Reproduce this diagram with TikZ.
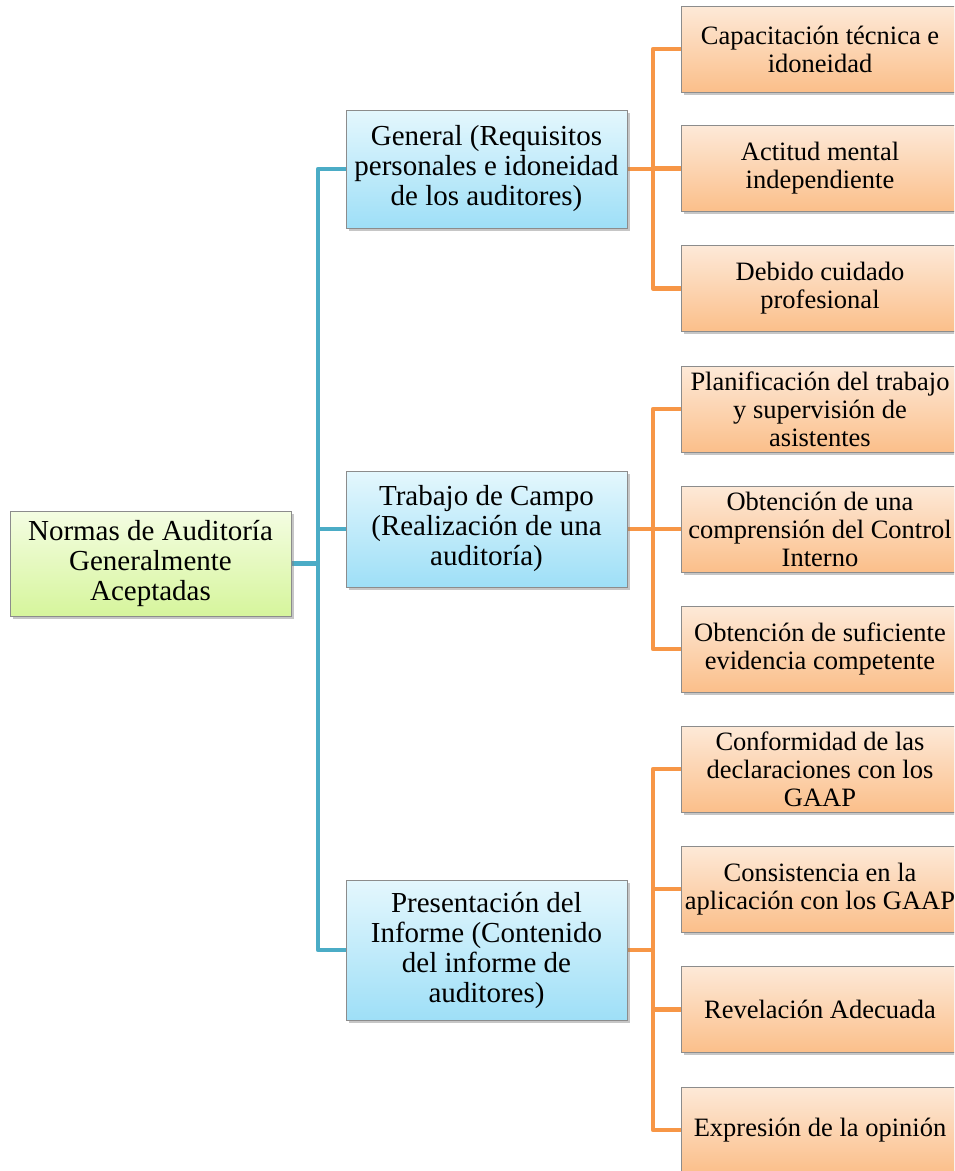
\documentclass[tikz,border=0pt]{standalone}
\usepackage{fontspec}
\setmainfont{Liberation Serif}
\usetikzlibrary{shadows}
\pgfdeclarelayer{background}
\pgfsetlayers{background,main}
\definecolor{bconn}{HTML}{4BACC6}
\definecolor{oconn}{HTML}{F79646}
\definecolor{gtop}{HTML}{F4FDE2}
\definecolor{gbot}{HTML}{D6F59C}
\definecolor{btop}{HTML}{E4F7FD}
\definecolor{bbot}{HTML}{9EDFF7}
\definecolor{otop}{HTML}{FDE9D8}
\definecolor{obot}{HTML}{FBBF8A}
\definecolor{edge}{HTML}{8C8C8C}
\begin{document}
\begin{tikzpicture}[x=1pt,y=-1pt,
  boxbase/.style={draw=edge, line width=0.8pt, align=center, inner sep=2pt,
    drop shadow={opacity=0.45, shadow xshift=2.5pt, shadow yshift=-2.5pt}},
  rootbox/.style={boxbase, top color=gtop, bottom color=gbot, minimum width=281pt, minimum height=105pt,
    font=\fontsize{29}{30}\selectfont},
  midbox/.style={boxbase, top color=btop, bottom color=bbot, minimum width=281pt,
    font=\fontsize{29}{30}\selectfont},
  leafbox/.style={boxbase, top color=otop, bottom color=obot, minimum width=278pt, minimum height=86pt,
    font=\fontsize{26.5}{28}\selectfont},
  bline/.style={draw=bconn, line width=4.5pt, line join=round},
  oline/.style={draw=oconn, line width=4.5pt, line join=round}
]
\useasboundingbox (0,0) rectangle (954,1171);
\clip (0,0) rectangle (954,1171);

% nodes
\node[rootbox] (root) at (150.5,563.5) {Normas de Auditoría\\Generalmente\\Aceptadas};

\node[midbox, minimum height=118pt] (gen) at (486.5,169) {General (Requisitos\\personales e idoneidad\\de los auditores)};
\node[midbox, minimum height=116pt] (trab) at (486.5,529) {Trabajo de Campo\\(Realización de una\\auditoría)};
\node[midbox, minimum height=140pt] (pres) at (486.5,950) {Presentación del\\Informe (Contenido\\del informe de\\auditores)};

\node[leafbox] (c1) at (820,49) {Capacitación técnica e\\idoneidad};
\node[leafbox] (c2) at (820,168.5) {Actitud mental\\independiente};
\node[leafbox] (c3) at (820,288.5) {Debido cuidado\\profesional};

\node[leafbox] (c4) at (820,409) {Planificación del trabajo\\y supervisión de\\asistentes};
\node[leafbox] (c5) at (820,529) {Obtención de una\\comprensión del Control\\Interno};
\node[leafbox] (c6) at (820,649) {Obtención de suficiente\\evidencia competente};

\node[leafbox] (c7) at (820,769) {Conformidad de las\\declaraciones con los\\GAAP};
\node[leafbox] (c8) at (820,889) {Consistencia en la\\aplicación con los GAAP};
\node[leafbox] (c9) at (820,1009.5) {Revelación Adecuada};
\node[leafbox] (c10) at (820,1130) {Expresión de la opinión};

% junction coordinates
\coordinate (trunk) at (318,563.5);
\coordinate (b1) at (653,169);
\coordinate (b2) at (653,529);
\coordinate (b3) at (653,950);

% connectors (behind nodes)
\begin{pgfonlayer}{background}
\draw[bline] (root.east) -- (trunk);
\draw[bline] (trunk) |- (gen.west);
\draw[bline] (trunk) |- (trab.west);
\draw[bline] (trunk) |- (pres.west);

\draw[oline] (gen.east) -- (b1);
\draw[oline] (b1) |- (c1.west);
\draw[oline] (b1) |- (c2.west);
\draw[oline] (b1) |- (c3.west);

\draw[oline] (trab.east) -- (b2);
\draw[oline] (b2) |- (c4.west);
\draw[oline] (b2) |- (c5.west);
\draw[oline] (b2) |- (c6.west);

\draw[oline] (pres.east) -- (b3);
\draw[oline] (b3) |- (c7.west);
\draw[oline] (b3) |- (c8.west);
\draw[oline] (b3) |- (c9.west);
\draw[oline] (b3) |- (c10.west);
\end{pgfonlayer}
\end{tikzpicture}
\end{document}
